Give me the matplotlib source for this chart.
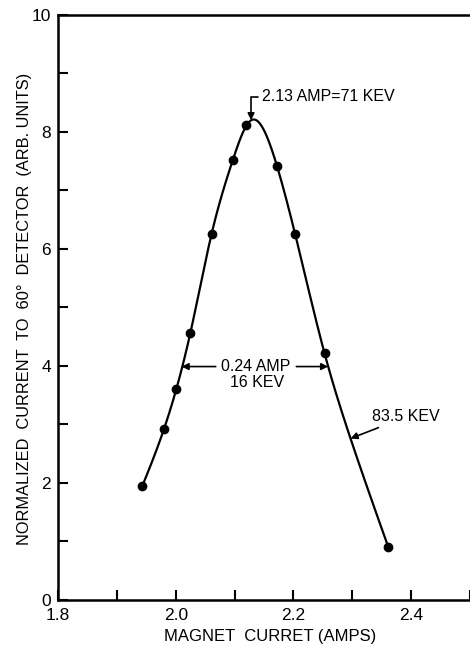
import numpy as np
import matplotlib
matplotlib.use("Agg")
import matplotlib.pyplot as plt
from matplotlib.ticker import MultipleLocator
from matplotlib.transforms import ScaledTranslation

plt.rcParams['font.family'] = ['Liberation Sans', 'DejaVu Sans']

# measured points (magnet current, normalized current)
amps = [1.943, 1.980, 2.000, 2.025, 2.061, 2.097, 2.120, 2.172, 2.203, 2.253, 2.361]
counts = [1.94, 2.92, 3.60, 4.57, 6.26, 7.52, 8.12, 7.42, 6.25, 4.23, 0.91]

# hand-drawn smooth curve, knots
curve_x = [1.943, 1.980, 2.025, 2.061, 2.097, 2.128, 2.172, 2.203, 2.2525, 2.297, 2.361]
curve_y = [1.94, 2.92, 4.57, 6.26, 7.52, 8.20, 7.42, 6.25, 4.23, 2.76, 0.91]

peak_x, peak_y = 2.128, 8.2
half_y = 3.99
half_left, half_right = 2.010, 2.259
tail_x, tail_y = 2.297, 2.76


def natural_spline(x, y, xs):
    x = np.asarray(x, float)
    y = np.asarray(y, float)
    n = len(x)
    h = np.diff(x)
    A = np.zeros((n, n))
    b = np.zeros(n)
    A[0, 0] = A[-1, -1] = 1.0
    for i in range(1, n - 1):
        A[i, i - 1] = h[i - 1]
        A[i, i] = 2 * (h[i - 1] + h[i])
        A[i, i + 1] = h[i]
        b[i] = 6 * ((y[i + 1] - y[i]) / h[i] - (y[i] - y[i - 1]) / h[i - 1])
    M = np.linalg.solve(A, b)
    idx = np.clip(np.searchsorted(x, xs) - 1, 0, n - 2)
    x0, x1 = x[idx], x[idx + 1]
    hh = x1 - x0
    t0, t1 = x1 - xs, xs - x0
    return (M[idx] * t0**3 / (6 * hh) + M[idx + 1] * t1**3 / (6 * hh)
            + (y[idx] / hh - M[idx] * hh / 6) * t0
            + (y[idx + 1] / hh - M[idx + 1] * hh / 6) * t1)


fig = plt.figure(figsize=(4.70, 6.45), dpi=100)
ax = fig.add_axes([0.1234, 0.0698, 0.8766, 0.907])

xs = np.linspace(curve_x[0], curve_x[-1], 400)
ax.plot(xs, natural_spline(curve_x, curve_y, xs), color='black', lw=1.6)
ax.plot(amps, counts, 'o', color='black', ms=6)

ax.set_xlim(1.8, 2.5)
ax.set_ylim(0, 10)
ax.xaxis.set_major_locator(MultipleLocator(0.2))
ax.xaxis.set_minor_locator(MultipleLocator(0.1))
ax.yaxis.set_major_locator(MultipleLocator(2))
ax.yaxis.set_minor_locator(MultipleLocator(1))
ax.xaxis.set_major_formatter(plt.FuncFormatter(lambda v, p: f'{v:.1f}'))
ax.yaxis.set_major_formatter(plt.FuncFormatter(lambda v, p: f'{v:.0f}'))
ax.tick_params(which='both', direction='in', length=7, width=1.5,
               labelsize=12.5, top=False, right=False)
ax.tick_params(axis='x', pad=6)
ax.tick_params(axis='y', pad=5)
ax.spines['right'].set_visible(False)
for s in ['left', 'bottom', 'top']:
    ax.spines[s].set_linewidth(1.8)

# the "0" sits a little above the axis line in the original
fig.canvas.draw()
zero_lbl = ax.yaxis.get_major_ticks()[0].label1
zero_lbl.set_transform(zero_lbl.get_transform()
                       + ScaledTranslation(0, 3 / 72, fig.dpi_scale_trans))

ax.set_xlabel('MAGNET  CURRET (AMPS)', fontsize=12)
ax.xaxis.set_label_coords(0.515, -0.063)
ax.xaxis.label.set_va('center')
ax.set_ylabel('NORMALIZED  CURRENT  TO  60°  DETECTOR  (ARB. UNITS)', fontsize=11.8)
ax.yaxis.set_label_coords(-0.0825, 0.497)
ax.yaxis.label.set_va('center')

ax.annotate('2.13 AMP=71 KEV', xy=(peak_x, peak_y), xytext=(2.147, 8.6),
            fontsize=11.5, ha='left', va='center',
            arrowprops=dict(arrowstyle='-|>', color='black', lw=1.2,
                            mutation_scale=10, shrinkA=1, shrinkB=0,
                            connectionstyle='angle,angleA=0,angleB=90,rad=0'))

ax.text(2.136, half_y, '0.24 AMP', fontsize=11.5, ha='center', va='center')
ax.text(2.138, 3.71, '16 KEV', fontsize=11.5, ha='center', va='center')
ax.annotate('', xy=(half_left, half_y), xytext=(2.068, half_y),
            arrowprops=dict(arrowstyle='-|>', color='black', lw=1.2,
                            mutation_scale=10, shrinkA=0, shrinkB=0))
ax.annotate('', xy=(half_right, half_y), xytext=(2.205, half_y),
            arrowprops=dict(arrowstyle='-|>', color='black', lw=1.2,
                            mutation_scale=10, shrinkA=0, shrinkB=0))

ax.annotate('83.5 KEV', xy=(tail_x, tail_y), xytext=(2.334, 3.13),
            fontsize=11.5, ha='left', va='center',
            arrowprops=dict(arrowstyle='-|>', color='black', lw=1.2,
                            mutation_scale=10, shrinkA=1, shrinkB=0))

fig.savefig('out.png', dpi=100, facecolor='white')
